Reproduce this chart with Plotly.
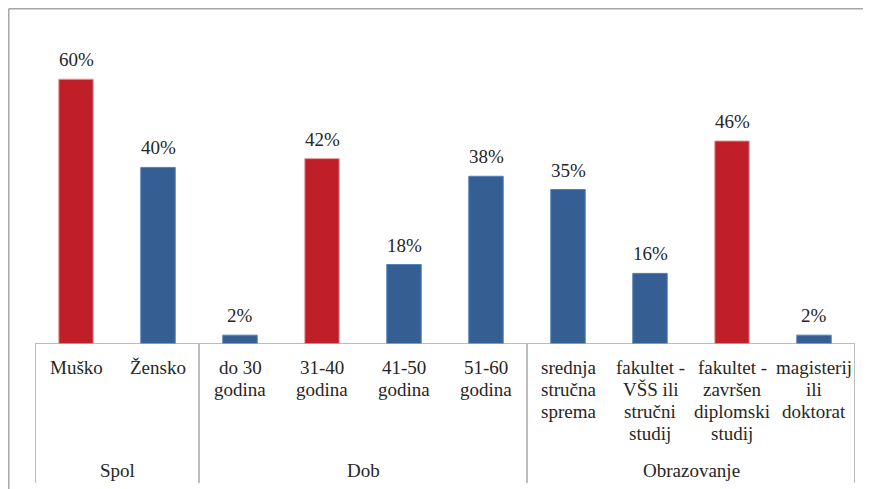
import plotly.graph_objects as go

categories = ["Muško", "Žensko", "do 30<br>godina", "31-40<br>godina", "41-50<br>godina",
              "51-60<br>godina", "srednja<br>stručna<br>sprema", "fakultet -<br>VŠS ili<br>stručni<br>studij",
              "fakultet -<br>završen<br>diplomski<br>studij", "magisterij<br>ili<br>doktorat"]
values = [60, 40, 2, 42, 18, 38, 35, 16, 46, 2]
highlight = [True, False, False, True, False, False, False, False, True, False]
groups = ["Spol", "Dob", "Obrazovanje"]
group_sizes = [2, 4, 4]

RED = "#C01F27"
BLUE = "#355F93"
FONT = "Liberation Serif"
TXT = "#262626"
GRID = "#A6A6A6"
FS = 19
LINE_H = 22

x = list(range(len(values)))
colors = [RED if h else BLUE for h in highlight]
lines = ["#E8A0A4" if h else "#4F81BD" for h in highlight]

fig = go.Figure()
fig.add_trace(go.Bar(x=x, y=values, marker=dict(color=colors, line=dict(color=lines, width=1)),
                     width=0.42, hoverinfo="skip"))

ann = []
for i, v in enumerate(values):
    ann.append(dict(x=i, y=v, xref="x", yref="y", text=f"{v}%", showarrow=False,
                    yanchor="bottom", yshift=7, font=dict(family=FONT, size=FS, color=TXT)))
    for j, part in enumerate(categories[i].split("<br>")):
        ann.append(dict(x=i, y=-0.035, xref="x", yref="paper", text=part, showarrow=False,
                        yanchor="top", yshift=-LINE_H * j, font=dict(family=FONT, size=FS, color=TXT)))

shapes = []
start = 0
bounds = [-0.5]
for g, n in zip(groups, group_sizes):
    center = start + (n - 1) / 2
    ann.append(dict(x=center, y=-0.408, xref="x", yref="paper", text=g, showarrow=False,
                    yanchor="middle", font=dict(family=FONT, size=FS, color=TXT)))
    start += n
    bounds.append(start - 0.5)
for b in bounds:
    shapes.append(dict(type="line", xref="x", yref="paper", x0=b, x1=b, y0=0, y1=-0.45,
                       line=dict(color=GRID, width=1.5)))
# baseline
shapes.append(dict(type="line", xref="x", yref="y", x0=-0.5, x1=len(values) - 0.5, y0=0, y1=0,
                   line=dict(color=GRID, width=1.5)))
# outer chart border (left and top)
shapes.append(dict(type="line", xref="paper", yref="paper", x0=-0.032, x1=-0.032, y0=1.085, y1=-0.6,
                   line=dict(color=GRID, width=1.5)))
shapes.append(dict(type="line", xref="paper", yref="paper", x0=-0.032, x1=1.1, y0=1.085, y1=1.085,
                   line=dict(color=GRID, width=1.5)))

fig.update_layout(
    width=863, height=481,
    margin=dict(l=27, r=16, t=27, b=145),
    paper_bgcolor="white", plot_bgcolor="white",
    showlegend=False,
    font=dict(family=FONT),
    xaxis=dict(range=[-0.5, len(values) - 0.5], showticklabels=False, showgrid=False,
               zeroline=False, showline=False, ticks=""),
    yaxis=dict(range=[0, 70], showticklabels=False, showgrid=False, zeroline=False,
               showline=False, ticks=""),
    annotations=ann, shapes=shapes,
)

fig.write_html("out.html")
